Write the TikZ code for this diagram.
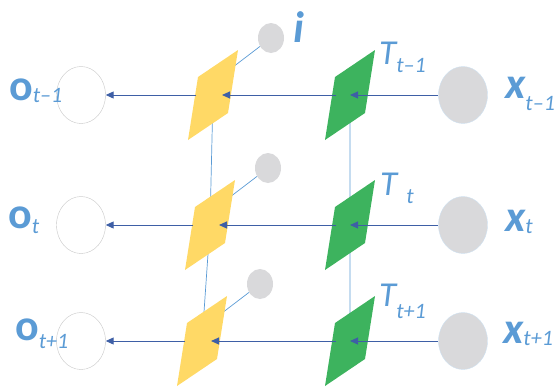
\documentclass[tikz,border=0pt]{standalone}
\usepackage{fontspec}
\setmainfont{Carlito}
\usetikzlibrary{arrows.meta,shapes.geometric,calc}
\definecolor{lblue}{HTML}{5B9BD5}
\definecolor{dblue}{HTML}{3E5FA6}
\definecolor{gold}{HTML}{FFD966}
\definecolor{leaf}{HTML}{3DB35E}
\definecolor{cloud}{HTML}{D9D9DB}
\tikzset{
  cell/.style={ellipse,minimum width=49pt,minimum height=57pt,inner sep=0pt},
  outc/.style={cell,draw=black!22,fill=white},
  inc/.style={cell,draw=lblue!30,fill=cloud},
  dot/.style={ellipse,minimum width=26pt,minimum height=30pt,inner sep=0pt,fill=cloud},
  flow/.style={dblue,line width=1pt,-{Triangle[length=8pt,width=7pt]}},
  link/.style={lblue,line width=0.7pt},
  lab/.style={lblue,inner sep=0pt,anchor=base west},
}
\newcommand{\plane}[2]{\fill[#1] ($(#2)+(-15,-18)$) -- ++(40,-27) -- ++(-10,63) -- ++(-40,27) -- cycle;}
\newcommand{\fo}{\fontsize{44}{44}\selectfont\bfseries}
\newcommand{\fx}{\fontsize{44}{44}\selectfont\bfseries\itshape}
\newcommand{\ft}{\fontsize{35}{35}\selectfont\itshape}
\newcommand{\lbl}[4]{#1\hspace{#2}\raisebox{-#3}{\fontsize{22}{22}\selectfont\itshape #4}}
\begin{document}
\begin{tikzpicture}[x=1pt,y=-1pt]
\useasboundingbox (0,0) rectangle (556,389);
% cells of the three steps
\foreach \r/\y/\px in {1/95/213, 2/225/210, 3/341/202}{
  \node[outc] (o\r) at (81,\y) {};
  \node[inc] (x\r) at (463,\y) {};
  \coordinate (p\r) at (\px,\y);
  \coordinate (g\r) at (350,\y);
  \node[dot] (i\r) at ($(p\r)+(58,-57)$) {};
}
\draw[link] (p1) -- (p2) -- (p3) (g1) -- (g3);
\foreach \r in {1,2,3}
  \draw[link] ($(p\r)+(20,-28)$) -- (i\r);
\foreach \r in {1,2,3}{
  \plane{gold}{p\r}
  \plane{leaf}{g\r}
}
\foreach \r in {1,2,3}{
  \draw[flow] (x\r) -- (g\r);
  \draw[flow,shorten <=14pt] (g\r) -- ($(p\r)+(9,0)$);
  \draw[flow,shorten <=17pt] (p\r) -- (o\r);
}
% labels
\foreach \r/\X/\Y/\d/\s in {1/9/100/2pt/t\textendash1, 2/8/228/5pt/t, 3/15/340/8pt/t+1}
  \node[lab] (lo\r) at (\X,\Y) {\lbl{{\fo o}}{0pt}{\d}{\s}};
\foreach \r/\X/\Y/\d/\s in {1/505/98/12pt/t\textendash1, 2/505/231/2pt/t, 3/503/343/2pt/t+1}
  \node[lab] (lx\r) at (\X,\Y) {\lbl{{\fx x}}{0pt}{\d}{\s}};
\foreach \r/\X/\Y/\h/\d/\s in {1/379/64/0pt/8pt/t\textendash1, 2/380/195/9pt/8pt/t, 3/379/306/0pt/12pt/t+1}
  \node[lab] (lt\r) at (\X,\Y) {\lbl{{\ft T}}{\h}{\d}{\s}};
\node[lab] (li) at (293,42) {\fx i};
\end{tikzpicture}
\end{document}
